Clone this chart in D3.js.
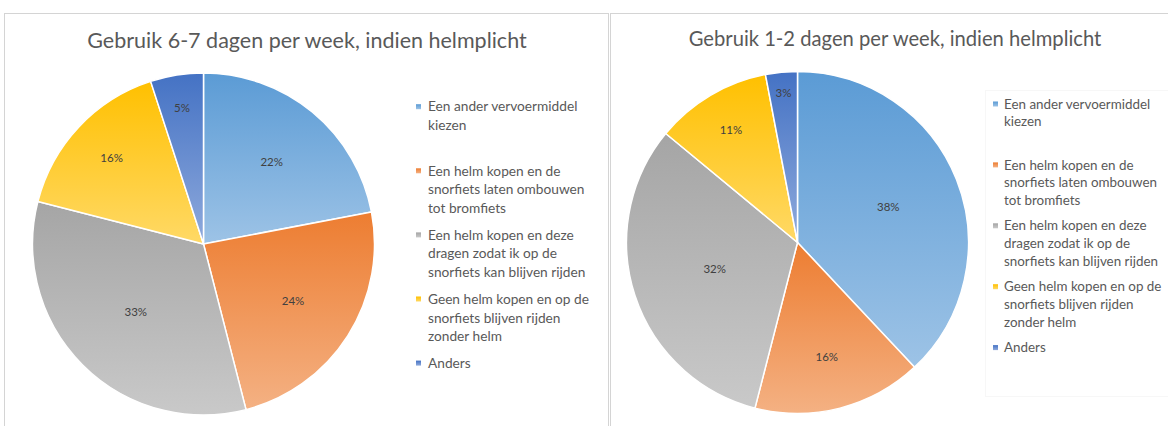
<!DOCTYPE html>
<html>
<head>
<meta charset="utf-8">
<script src="https://cdn.jsdelivr.net/npm/d3@7"></script>
<style>
  body { margin: 0; background: #fff; }
  svg { display: block; font-family: Lato, "Open Sans", sans-serif; }
</style>
</head>
<body>
<svg id="chart" width="1168" height="426"></svg>
<script>
// categories (legend lines as Excel wraps them)
const categories = [
    'Een ander vervoermiddel kiezen',
    'Een helm kopen en de snorfiets laten ombouwen tot bromfiets',
    'Een helm kopen en deze dragen zodat ik op de snorfiets kan blijven rijden',
    'Geen helm kopen en op de snorfiets blijven rijden zonder helm',
    'Anders'
]
const legendLines = [
    ['Een ander vervoermiddel', 'kiezen'],
    ['Een helm kopen en de', 'snorfiets laten ombouwen', 'tot bromfiets'],
    ['Een helm kopen en deze', 'dragen zodat ik op de', 'snorfiets kan blijven rijden'],
    ['Geen helm kopen en op de', 'snorfiets blijven rijden', 'zonder helm'],
    ['Anders']
]

const titles = [
    'Gebruik 6-7 dagen per week, indien helmplicht',
    'Gebruik 1-2 dagen per week, indien helmplicht'
]
// percentages per chart
const values67 = [22, 24, 33, 16, 5]
const values12 = [38, 16, 32, 11, 3]

// gradient colours (top -> bottom) per category
const colorTop = ['#5b9bd5', '#ed7d31', '#a5a5a5', '#ffc000', '#4472c4']
const colorBottom = ['#9dc3e6', '#f4b183', '#c9c9c9', '#ffd966', '#8faadc']

// layout for each panel
const panels = [
    {
        box: {x: 4.5, y: 13.5, w: 604, h: 430},
        title: {x: 307, y: 48, size: 21.5},
        pie: {cx: 203.5, cy: 244, r: 171},
        labelR: [0.626, 0.62, 0.56, 0.737, 0.807],
        legend: {x: 416, y: 106.7, step: 64.1, lh: 18.8, size: 13.7, textX: 428},
        values: values67
    },
    {
        box: {x: 610.5, y: 13.5, w: 600, h: 430},
        title: {x: 895, y: 46, size: 20.2},
        pie: {cx: 797.5, cy: 242.5, r: 171},
        labelR: [0.571, 0.689, 0.509, 0.765, 0.876],
        legend: {x: 993, y: 104, step: 60.9, lh: 17.7, size: 13.4, textX: 1004},
        legendBox: {x: 985.5, y: 90.5, w: 200, h: 306},
        values: values12
    }
]

const svg = d3.select('#chart')

// gradients, one per category, across each slice's own box
const defs = svg.append('defs')
categories.forEach((c, i) => {
    const grad = defs.append('linearGradient')
        .attr('id', 'grad' + i)
        .attr('x1', 0).attr('y1', 0)
        .attr('x2', 0).attr('y2', 1)
    grad.append('stop').attr('offset', '0%').attr('stop-color', colorTop[i])
    grad.append('stop').attr('offset', '100%').attr('stop-color', colorBottom[i])
})

const drawPanel = function (p, idx) {
    const g = svg.append('g')

    g.append('rect')
        .attr('x', p.box.x).attr('y', p.box.y)
        .attr('width', p.box.w).attr('height', p.box.h)
        .attr('fill', '#fff')
        .attr('stroke', '#d4d4d4')
        .attr('stroke-width', 1)

    if (p.legendBox) {
        g.append('rect')
            .attr('x', p.legendBox.x).attr('y', p.legendBox.y)
            .attr('width', p.legendBox.w).attr('height', p.legendBox.h)
            .attr('fill', '#fff')
            .attr('stroke', '#f7f7f7')
    }

    g.append('text')
        .attr('x', p.title.x).attr('y', p.title.y)
        .attr('text-anchor', 'middle')
        .attr('font-size', p.title.size)
        .attr('fill', '#595959')
        .text(titles[idx])

    const pie = d3.pie().sort(null).value(d => d)
    const arcs = pie(p.values)
    const arc = d3.arc().innerRadius(0).outerRadius(p.pie.r)

    const pg = g.append('g')
        .attr('transform', `translate(${p.pie.cx}, ${p.pie.cy})`)

    pg.selectAll('path')
        .data(arcs)
        .join('path')
        .attr('d', arc)
        .attr('fill', (d, i) => `url(#grad${i})`)
        .attr('stroke', '#fff')
        .attr('stroke-width', 1.5)
        .attr('stroke-linejoin', 'round')

    pg.selectAll('text.lbl')
        .data(arcs)
        .join('text')
        .attr('class', 'lbl')
        .attr('transform', (d, i) => {
            const a = (d.startAngle + d.endAngle) / 2
            const rr = p.pie.r * p.labelR[i]
            return `translate(${Math.sin(a) * rr}, ${-Math.cos(a) * rr})`
        })
        .attr('text-anchor', 'middle')
        .attr('dy', '0.35em')
        .attr('font-size', 11.5)
        .attr('fill', '#404040')
        .text(d => d.data + '%')

    // legend
    const lg = g.append('g')
    legendLines.forEach((lines, i) => {
        const y0 = p.legend.y + i * p.legend.step
        lg.append('rect')
            .attr('x', p.legend.x).attr('y', y0 - 2.5)
            .attr('width', 5).attr('height', 5)
            .attr('fill', `url(#grad${i})`)
        lines.forEach((line, j) => {
            lg.append('text')
                .attr('x', p.legend.textX)
                .attr('y', y0 + j * p.legend.lh)
                .attr('dy', '0.35em')
                .attr('font-size', p.legend.size)
                .attr('fill', '#595959')
                .text(line)
        })
    })
}

panels.forEach(drawPanel)
</script>
</body>
</html>
